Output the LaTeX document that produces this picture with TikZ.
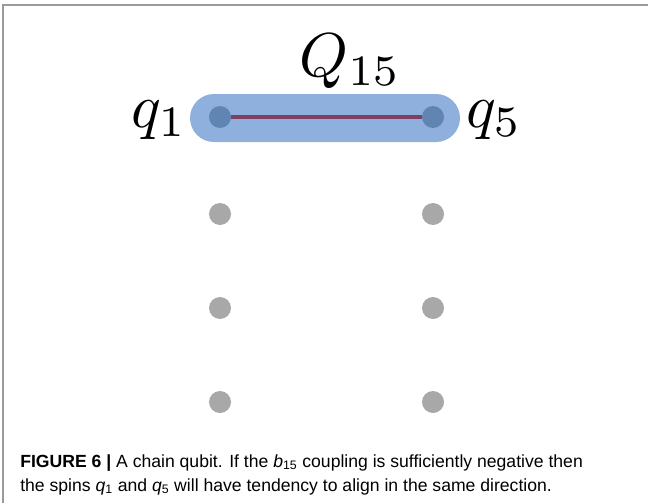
\documentclass[tikz,border=0pt]{standalone}
\usepackage{fontspec}
\newfontfamily\capfont{Liberation Sans}
\definecolor{capsulecol}{HTML}{8FB0DD}
\definecolor{ondot}{HTML}{6185B2}
\definecolor{graydot}{HTML}{A8A8A8}
\definecolor{linkcol}{HTML}{7E3F60}
\definecolor{framecol}{HTML}{9A9A9A}
\tikzset{
  spin/.style={circle, fill=graydot, minimum size=16.5pt, inner sep=0pt},
  spinon/.style={circle, fill=ondot, minimum size=16.5pt, inner sep=0pt},
  biglabel/.style={inner sep=0pt, scale=4.65},
  link/.style={draw=linkcol, line width=3pt},
}
\begin{document}
\begin{tikzpicture}[x=0.75pt,y=-0.75pt]
\useasboundingbox (0,0) rectangle (648,503);
% frame
\draw[framecol, line width=1.5pt] (3,503) -- (3,5.5) -- (648,5.5);
% capsule
\fill[capsulecol, rounded corners=18pt] (190,94) rectangle (460,142);
% spins
\node[spinon] (q1) at (220,117) {};
\node[spinon] (q5) at (433,117) {};
\draw[link] (q1) -- (q5);
\node[spin] (s21) at (220,214) {};
\node[spin] (s22) at (433,214) {};
\node[spin] (s31) at (220,308) {};
\node[spin] (s32) at (433,308) {};
\node[spin] (s41) at (220,402) {};
\node[spin] (s42) at (433,402) {};
% labels
\node[biglabel, anchor=base east] (l1) at (188,127) {$q_1$};
\node[biglabel, anchor=base west] (l5) at (465,127) {$q_5$};
\node[biglabel, anchor=base] (lq) at (350,76) {$Q_{15}$};
% caption
\node[anchor=base west, inner sep=0pt, align=left, font=\capfont\fontsize{13.2}{18}\selectfont] (cap) at (20,491)
 {\textbf{FIGURE 6 |} A chain qubit. If the \textit{b}\textsubscript{15} coupling is sufficiently negative then\\
  the spins \textit{q}\textsubscript{1} and \textit{q}\textsubscript{5} will have tendency to align in the same direction.};
\end{tikzpicture}
\end{document}
